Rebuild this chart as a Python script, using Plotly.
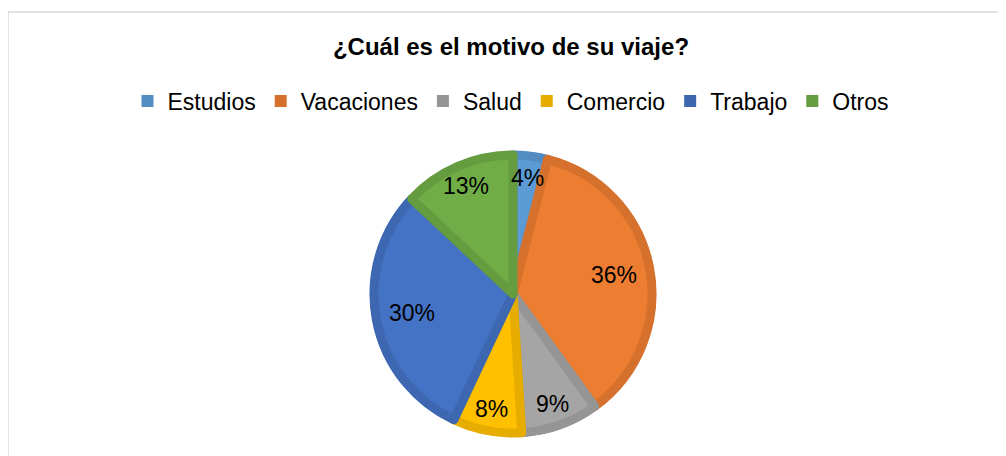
import math
import plotly.graph_objects as go

# ---- data ----
categories = ["Estudios", "Vacaciones", "Salud", "Comercio", "Trabajo", "Otros"]
values = [4, 36, 9, 8, 30, 13]
fill_colors = ["#5B9BD5", "#ED7D31", "#A5A5A5", "#FFC000", "#4472C4", "#70AD47"]
edge_colors = ["#528CC0", "#D5712C", "#959595", "#E6AD00", "#3D67B0", "#659C40"]
title_text = "¿Cuál es el motivo de su viaje?"

# ---- layout geometry (page pixels; the page body adds an 8px margin) ----
W, H = 1006, 456
OFF = 8
cx, cy = 513 - OFF, 294 - OFF     # pie centre in figure coords (from top-left)
R_outer = 143
R_inner = 139
FONT = "Liberation Sans, Arial, sans-serif"


def domain(r):
    return dict(
        x=[(cx - r) / W, (cx + r) / W],
        y=[(H - cy - r) / H, (H - cy + r) / H],
    )


fig = go.Figure()

# darker rim (acts as the inner border of each slice)
fig.add_trace(go.Pie(
    labels=categories, values=values, sort=False, direction="clockwise",
    marker=dict(colors=edge_colors, line=dict(width=0)),
    textinfo="none", hoverinfo="skip", domain=domain(R_outer),
    showlegend=True,
))

# lighter fill, inset
fig.add_trace(go.Pie(
    labels=categories, values=values, sort=False, direction="clockwise",
    marker=dict(colors=fill_colors, line=dict(color=edge_colors, width=9)),
    textinfo="none", hoverinfo="label+percent",
    domain=domain(R_inner), showlegend=False,
))

# percentage labels ("best fit" style: big slices nearer the centre)
total = sum(values)
annotations = []
cum = 0.0
for v in values:
    share = v / total
    mid = (cum + share / 2) * 2 * math.pi     # clockwise from 12 o'clock
    cum += share
    rr = R_outer * (0.72 if share > 0.2 else 0.82)
    px = cx + rr * math.sin(mid)
    py = cy - rr * math.cos(mid)
    annotations.append(dict(
        text=f"{round(share * 100)}%", x=px / W, y=1 - py / H,
        xref="paper", yref="paper", xanchor="center", yanchor="middle",
        showarrow=False, font=dict(family=FONT, size=23, color="#000000"),
    ))

fig.update_layout(
    width=W, height=H,
    margin=dict(l=0, r=0, t=0, b=0),
    paper_bgcolor="white", plot_bgcolor="white",
    title=dict(text="<b>" + title_text + "</b>", x=(511 - OFF) / W, xanchor="center",
               y=1 - (47 - OFF) / H, yanchor="middle",
               font=dict(family=FONT, size=24, color="#000000")),
    legend=dict(orientation="h", x=(511 - OFF) / W, xanchor="center",
                y=1 - (101 - OFF) / H, yanchor="middle",
                font=dict(family=FONT, size=23, color="#000000"),
                itemclick=False, itemdoubleclick=False),
    annotations=annotations,
    shapes=[dict(type="rect", xref="paper", yref="paper",
                 x0=0, x1=1.05, y0=-0.05, y1=1 - (12 - OFF) / H,
                 line=dict(color="#D9D9D9", width=1.5), fillcolor="rgba(0,0,0,0)")],
)

fig.write_html("out.html")
